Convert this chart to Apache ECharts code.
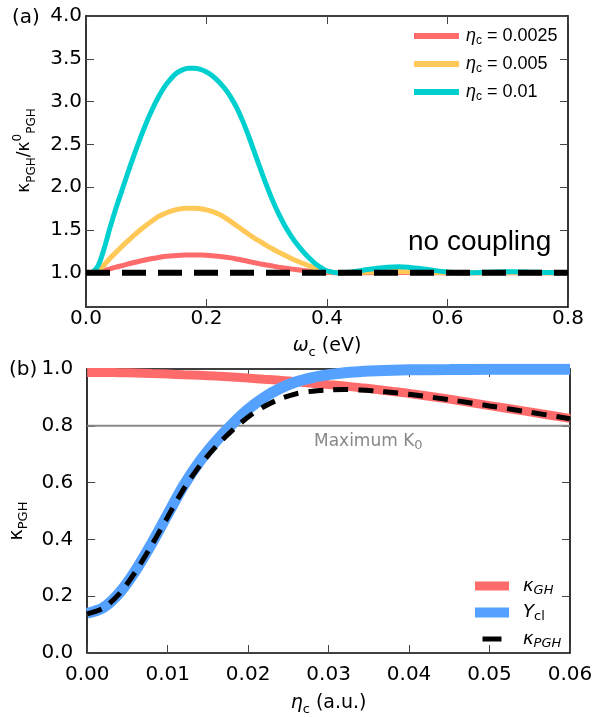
<!DOCTYPE html>
<html><head><meta charset="utf-8">
<script src="https://cdn.jsdelivr.net/npm/echarts@6/dist/echarts.min.js"></script>
<style>html,body{margin:0;padding:0;background:#fff}#c{width:602px;height:717px}</style>
</head><body><div id="c"></div><script>
// ---- Panel (a) data ----
const omega = [0.01,0.02,0.03,0.04,0.05,0.06,0.07,0.08,0.09,0.10,0.11,0.12,0.13,0.14,0.15,0.16,0.17,0.18,0.19,0.20,
  0.21,0.22,0.23,0.24,0.25,0.26,0.27,0.28,0.29,0.30,0.31,0.32,0.33,0.34,0.35,0.36,0.37,0.38,0.39,0.40,
  0.42,0.44,0.46,0.48,0.50,0.52,0.54,0.56,0.58,0.60,0.62,0.64,0.66,0.68,0.70,0.72,0.74,0.76,0.78,0.80];
const ratioEta0025 = [1.000,1.007,1.024,1.046,1.066,1.084,1.103,1.120,1.137,1.152,1.166,1.178,1.189,1.197,1.203,1.206,1.208,1.208,1.207,1.204,
  1.199,1.192,1.184,1.174,1.161,1.147,1.132,1.117,1.103,1.090,1.078,1.066,1.055,1.045,1.036,1.027,1.019,1.012,1.007,1.003,
  1.000,1.000,1.001,1.002,1.003,1.003,1.002,1.001,1.000,1.000,1.000,1.000,1.000,1.000,1.000,1.000,1.000,1.000,1.000,1.000];
const ratioEta005 = [1.000,1.025,1.090,1.170,1.240,1.310,1.375,1.440,1.500,1.555,1.607,1.655,1.690,1.717,1.737,1.750,1.755,1.755,1.748,1.735,
  1.714,1.686,1.648,1.600,1.550,1.500,1.450,1.403,1.360,1.318,1.278,1.240,1.204,1.170,1.138,1.108,1.080,1.055,1.033,1.016,
  1.001,1.000,1.005,1.010,1.015,1.015,1.012,1.008,1.004,1.000,1.000,1.000,1.001,1.002,1.003,1.002,1.001,1.000,1.000,1.000];
const ratioEta01 = [1.000,1.080,1.280,1.530,1.760,1.970,2.180,2.380,2.570,2.750,2.910,3.050,3.170,3.260,3.330,3.370,3.390,3.390,3.375,3.345,
  3.300,3.235,3.155,3.055,2.930,2.775,2.595,2.400,2.205,2.015,1.840,1.685,1.550,1.435,1.335,1.250,1.175,1.110,1.060,1.022,
  0.998,1.010,1.030,1.050,1.065,1.070,1.060,1.045,1.025,1.010,1.000,1.000,1.005,1.010,1.012,1.010,1.007,1.004,1.001,1.000];
const noCouplingX = [0.0, 0.8];
const noCouplingY = [1.0, 1.0];
const aYTicks = [1.0,1.5,2.0,2.5,3.0,3.5,4.0];

// ---- Panel (b) data ----
const eta = [0.000,0.002,0.004,0.006,0.008,0.010,0.012,0.014,0.016,0.018,0.020,0.022,0.024,0.026,0.028,0.030,
  0.032,0.034,0.036,0.038,0.040,0.045,0.050,0.055,0.060];
const kappaGH = [0.988,0.988,0.987,0.986,0.984,0.982,0.980,0.978,0.975,0.972,0.968,0.964,0.960,0.955,0.950,0.945,
  0.940,0.934,0.928,0.921,0.914,0.894,0.871,0.849,0.826];
const Ycl = [0.140,0.160,0.212,0.290,0.385,0.488,0.590,0.675,0.745,0.805,0.858,0.900,0.932,0.955,0.970,0.980,
  0.987,0.991,0.994,0.996,0.997,0.998,0.999,0.999,0.999];
const kappaPGH = [0.138,0.158,0.209,0.286,0.379,0.479,0.578,0.660,0.727,0.783,0.831,0.868,0.895,0.913,0.922,0.926,
  0.928,0.926,0.922,0.917,0.911,0.892,0.870,0.848,0.825];
const maxK0X = [0.0, 0.06];
const maxK0 = [0.8, 0.8];

const zip = (xs, ys) => xs.map((x, i) => [x, ys[i]]);
const RED = '#ff6b6b', YEL = '#ffc857', TEAL = '#00cfd0', BLUE = '#55a1ff';
const FONT = 'DejaVu Sans';
const frame = {show:true, onZero:false, lineStyle:{color:'#000', width:1.6}};
const tickIn = {show:true, inside:true, length:8, lineStyle:{color:'#444', width:1}};
const mkRich = (big, small) => ({
  m:{fontFamily:FONT, fontSize:big, lineHeight:26, verticalAlign:'middle', color:'#000'},
  i:{fontFamily:FONT, fontSize:big, fontStyle:'italic', lineHeight:26, verticalAlign:'middle', color:'#000'},
  s:{fontFamily:FONT, fontSize:small, lineHeight:12, verticalAlign:'bottom', color:'#000'},
  p:{fontFamily:FONT, fontSize:small, lineHeight:12, verticalAlign:'top', color:'#000'}
});

const chart = echarts.init(document.getElementById('c'));
chart.setOption({
  animation:false,
  backgroundColor:'#fff',
  grid:[
    {left:86, top:16, width:482, height:291},
    {left:86, top:369, width:484, height:293}
  ],
  xAxis:[
    {gridIndex:0, type:'value', min:0, max:0.8, interval:0.2, position:'bottom', axisLine:frame, axisTick:tickIn,
      axisLabel:{fontFamily:FONT, fontSize:20, color:'#000', margin:2, formatter:v=>v.toFixed(1)}, splitLine:{show:false},
      name:'{i|ω}{s|c}{m| (eV)}', nameLocation:'middle', nameGap:26, nameTextStyle:{rich:mkRich(19,13)}},
    {gridIndex:0, type:'value', min:0, max:0.8, interval:0.2, position:'top', axisLine:frame, axisTick:tickIn,
      axisLabel:{show:false}, splitLine:{show:false}},
    {gridIndex:1, type:'value', min:0, max:0.06, interval:0.01, position:'bottom', axisLine:frame, axisTick:tickIn,
      axisLabel:{fontFamily:FONT, fontSize:20, color:'#000', margin:12, formatter:v=>v.toFixed(2)}, splitLine:{show:false},
      name:'{i|η}{s|c}{m| (a.u.)}', nameLocation:'middle', nameGap:37, nameTextStyle:{rich:mkRich(19,13)}},
    {gridIndex:1, type:'value', min:0, max:0.06, interval:0.01, position:'top', axisLine:frame, axisTick:tickIn,
      axisLabel:{show:false}, splitLine:{show:false}}
  ],
  yAxis:[
    {gridIndex:0, type:'value', min:0.6, max:4.0, position:'left', axisLine:frame,
      axisTick:Object.assign({customValues:aYTicks}, tickIn),
      axisLabel:{customValues:aYTicks, fontFamily:FONT, fontSize:20, color:'#000', margin:4, formatter:v=>v.toFixed(1)},
      splitLine:{show:false},
      name:'{m|κ}{s|PGH}{m|/κ}{p|0}{s|PGH}', nameLocation:'middle', nameGap:48, nameRotate:90,
      nameTextStyle:{padding:[0,0,0,22], rich:mkRich(17,12)}},
    {gridIndex:0, type:'value', min:0.6, max:4.0, position:'right', axisLine:frame,
      axisTick:Object.assign({customValues:aYTicks}, tickIn), axisLabel:{show:false}, splitLine:{show:false}},
    {gridIndex:1, type:'value', min:0, max:1.0, interval:0.2, position:'left', axisLine:frame, axisTick:tickIn,
      axisLabel:{fontFamily:FONT, fontSize:20, color:'#000', margin:14, formatter:v=>v.toFixed(1)}, splitLine:{show:false},
      name:'{m|κ}{s|PGH}', nameLocation:'middle', nameGap:52, nameRotate:90,
      nameTextStyle:{padding:[0,20,0,0], rich:mkRich(19,13)}},
    {gridIndex:1, type:'value', min:0, max:1.0, interval:0.2, position:'right', axisLine:frame, axisTick:tickIn,
      axisLabel:{show:false}, splitLine:{show:false}}
  ],
  legend:[
    {orient:'vertical', left:406, top:22, itemWidth:45, itemHeight:14, itemGap:8,
      itemStyle:{opacity:0}, lineStyle:{width:6},
      data:['ηc = 0.0025','ηc = 0.005','ηc = 0.01'],
      formatter:n=>'{i|η}{s|c}{t|'+n.slice(2)+'}',
      textStyle:{padding:[0,0,0,2], rich:{
        i:{fontFamily:'Liberation Sans', fontSize:18, fontStyle:'italic', lineHeight:22, verticalAlign:'middle', color:'#000'},
        s:{fontFamily:'Liberation Sans', fontSize:12, lineHeight:10, verticalAlign:'bottom', color:'#000'},
        t:{fontFamily:'Liberation Sans', fontSize:18, lineHeight:22, verticalAlign:'middle', color:'#000'}}}},
    {orient:'vertical', left:465, top:572, itemWidth:34, itemHeight:14, itemGap:6.5,
      itemStyle:{opacity:0},
      data:[{name:'κGH', lineStyle:{width:9}},{name:'Ycl', lineStyle:{width:10}},
            {name:'κPGH', lineStyle:{width:5, type:[19,100], dashOffset:111.5}}],
      formatter:n=>n==='Ycl' ? '{i|Y}{s|cl}' : '{i|κ}{si|'+n.slice(1)+'}',
      textStyle:{padding:[0,0,0,9], rich:{
        i:{fontFamily:FONT, fontSize:18, fontStyle:'italic', lineHeight:22, verticalAlign:'middle', color:'#000'},
        s:{fontFamily:FONT, fontSize:13, lineHeight:10, verticalAlign:'bottom', color:'#000'},
        si:{fontFamily:FONT, fontSize:13, fontStyle:'italic', lineHeight:10, verticalAlign:'bottom', color:'#000'}}}}
  ],
  graphic:[
    {type:'text', left:12, top:8, style:{text:'(a)', fontFamily:FONT, fontSize:20, fill:'#000'}},
    {type:'text', left:9, top:360, style:{text:'(b)', fontFamily:FONT, fontSize:20, fill:'#000'}},
    {type:'text', left:408, top:228, style:{text:'no coupling', fontFamily:'Liberation Sans', fontSize:28, fill:'#000'}},
    {type:'text', left:314, top:433, style:{text:'{m|Maximum K}{s|0}', rich:{
      m:{fontFamily:FONT, fontSize:17, lineHeight:22, verticalAlign:'middle', fill:'#888'},
      s:{fontFamily:FONT, fontSize:13, lineHeight:10, verticalAlign:'bottom', fill:'#888'}}}}
  ],
  series:[
    {name:'ηc = 0.0025', type:'line', xAxisIndex:0, yAxisIndex:0, data:zip(omega, ratioEta0025), symbol:'none', smooth:0.4,
      color:RED, lineStyle:{color:RED, width:5}},
    {name:'ηc = 0.005', type:'line', xAxisIndex:0, yAxisIndex:0, data:zip(omega, ratioEta005), symbol:'none', smooth:0.4,
      color:YEL, lineStyle:{color:YEL, width:5}},
    {name:'ηc = 0.01', type:'line', xAxisIndex:0, yAxisIndex:0, data:zip(omega, ratioEta01), symbol:'none', smooth:0.4,
      color:TEAL, lineStyle:{color:TEAL, width:5}},
    {name:'no coupling', type:'line', xAxisIndex:0, yAxisIndex:0, data:zip(noCouplingX, noCouplingY), symbol:'none',
      color:'#000', lineStyle:{color:'#000', width:6, type:[24,12]}},
    {name:'Maximum K0', type:'line', xAxisIndex:2, yAxisIndex:2, data:zip(maxK0X, maxK0), symbol:'none',
      color:'#888', lineStyle:{color:'#888', width:2}},
    {name:'κGH', type:'line', xAxisIndex:2, yAxisIndex:2, data:zip(eta, kappaGH), symbol:'none', smooth:0.3,
      color:RED, lineStyle:{color:RED, width:9}},
    {name:'Ycl', type:'line', xAxisIndex:2, yAxisIndex:2, data:zip(eta, Ycl), symbol:'none', smooth:0.3,
      color:BLUE, lineStyle:{color:BLUE, width:11}},
    {name:'κPGH', type:'line', xAxisIndex:2, yAxisIndex:2, data:zip(eta, kappaPGH), symbol:'none', smooth:0.3,
      color:'#000', lineStyle:{color:'#000', width:5, type:[15,10]}}
  ]
});
</script></body></html>
